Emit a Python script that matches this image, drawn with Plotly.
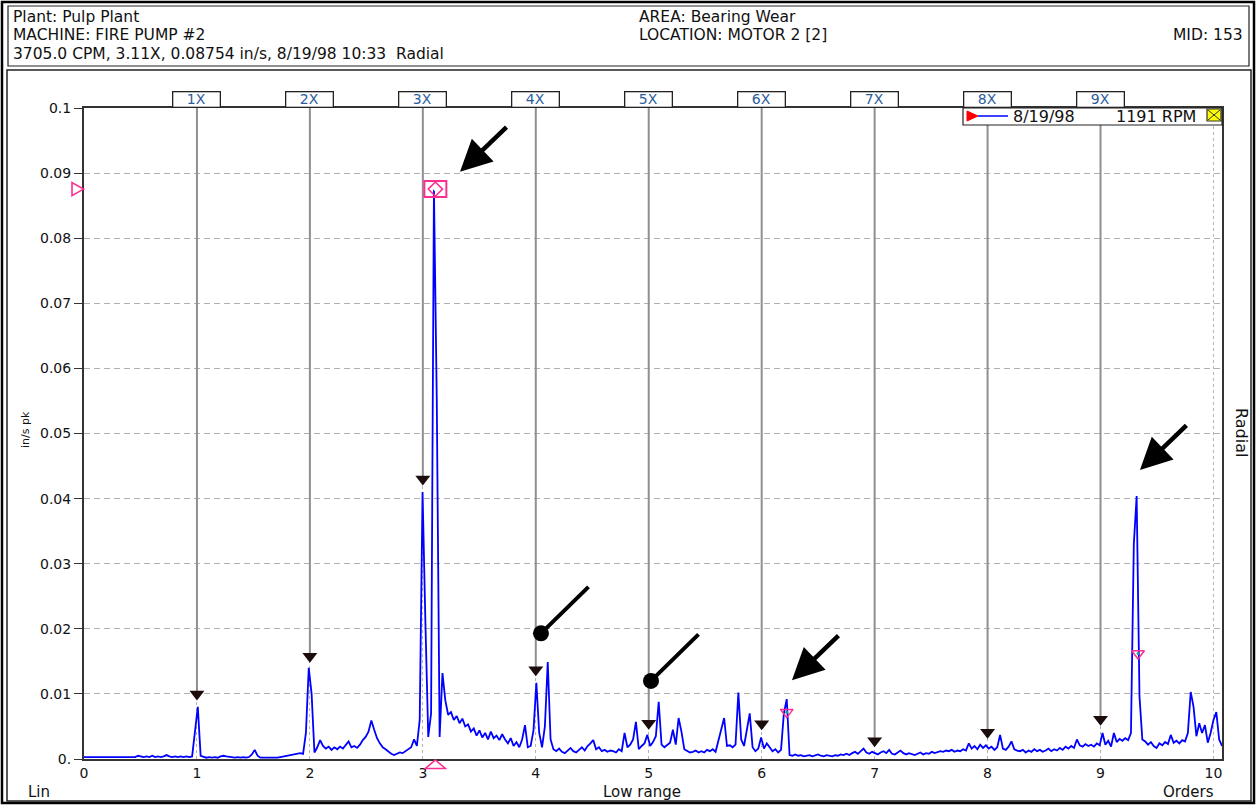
import plotly.graph_objects as go

# ---------------- data ----------------
RPM = 1191
CPM_PER_LINE = 30          # 400-line spectrum, Fmax 12000 CPM

amplitude = [
    0.0003, 0.0003, 0.0002, 0.0003, 0.0002, 0.0002, 0.0003, 0.0002, 0.0003, 0.0002,
    0.0002, 0.0003, 0.0002, 0.0002, 0.0003, 0.0002, 0.0003, 0.0002, 0.0003, 0.0005,
    0.0004, 0.0003, 0.0004, 0.0003, 0.0005, 0.0003, 0.0004, 0.0003, 0.0004, 0.0006,
    0.0004, 0.0003, 0.0004, 0.0003, 0.0004, 0.0003, 0.0004, 0.0003, 0.0004, 0.0047,
    0.0080, 0.0005, 0.0003, 0.0002, 0.0003, 0.0002, 0.0003, 0.0002, 0.0004, 0.0005,
    0.0004, 0.0003, 0.0003, 0.0002, 0.0003, 0.0002, 0.0003, 0.0002, 0.0003, 0.0007,
    0.0014, 0.0005, 0.0002, 0.0002, 0.0001, 0.0002, 0.0002, 0.0001, 0.0002, 0.0003,
    0.0004, 0.0005, 0.0005, 0.0006, 0.0007, 0.0008, 0.0009, 0.0008, 0.0040, 0.0140,
    0.0100, 0.0010, 0.0018, 0.0029, 0.0020, 0.0016, 0.0019, 0.0014, 0.0018, 0.0015,
    0.0019, 0.0016, 0.0021, 0.0027, 0.0018, 0.0020, 0.0017, 0.0022, 0.0029, 0.0034,
    0.0042, 0.0059, 0.0045, 0.0032, 0.0024, 0.0018, 0.0015, 0.0011, 0.0008, 0.0006,
    0.0008, 0.0010, 0.0009, 0.0012, 0.0014, 0.0018, 0.0030, 0.0020, 0.0060, 0.0410,
    0.0210, 0.0034, 0.0070, 0.0875, 0.0550, 0.0034, 0.0132, 0.0090, 0.0068, 0.0072,
    0.0060, 0.0066, 0.0055, 0.0062, 0.0050, 0.0053, 0.0042, 0.0047, 0.0036, 0.0044,
    0.0033, 0.0040, 0.0030, 0.0042, 0.0032, 0.0036, 0.0029, 0.0038, 0.0030, 0.0024,
    0.0032, 0.0020, 0.0026, 0.0018, 0.0030, 0.0052, 0.0018, 0.0020, 0.0044, 0.0117,
    0.0040, 0.0018, 0.0050, 0.0149, 0.0030, 0.0015, 0.0012, 0.0016, 0.0011, 0.0009,
    0.0013, 0.0017, 0.0012, 0.0010, 0.0014, 0.0018, 0.0013, 0.0020, 0.0024, 0.0029,
    0.0015, 0.0018, 0.0012, 0.0014, 0.0011, 0.0013, 0.0012, 0.0010, 0.0015, 0.0012,
    0.0040, 0.0018, 0.0022, 0.0030, 0.0057, 0.0015, 0.0020, 0.0024, 0.0037, 0.0020,
    0.0026, 0.0035, 0.0088, 0.0022, 0.0018, 0.0022, 0.0025, 0.0045, 0.0022, 0.0063,
    0.0042, 0.0015, 0.0012, 0.0010, 0.0011, 0.0013, 0.0010, 0.0012, 0.0010, 0.0014,
    0.0012, 0.0015, 0.0011, 0.0030, 0.0045, 0.0063, 0.0020, 0.0021, 0.0018, 0.0022,
    0.0102, 0.0030, 0.0020, 0.0048, 0.0070, 0.0018, 0.0012, 0.0016, 0.0033, 0.0016,
    0.0024, 0.0018, 0.0012, 0.0015, 0.0010, 0.0014, 0.0070, 0.0092, 0.0006, 0.0005,
    0.0007, 0.0005, 0.0006, 0.0004, 0.0005, 0.0006, 0.0004, 0.0005, 0.0007, 0.0005,
    0.0004, 0.0006, 0.0005, 0.0004, 0.0006, 0.0005, 0.0007, 0.0006, 0.0008, 0.0006,
    0.0009, 0.0011, 0.0008, 0.0012, 0.0016, 0.0010, 0.0008, 0.0011, 0.0009, 0.0007,
    0.0010, 0.0012, 0.0009, 0.0014, 0.0008, 0.0007, 0.0010, 0.0013, 0.0009, 0.0007,
    0.0009, 0.0008, 0.0006, 0.0008, 0.0010, 0.0007, 0.0009, 0.0008, 0.0011, 0.0009,
    0.0010, 0.0012, 0.0011, 0.0013, 0.0012, 0.0014, 0.0011, 0.0013, 0.0012, 0.0015,
    0.0013, 0.0024, 0.0016, 0.0020, 0.0015, 0.0022, 0.0017, 0.0021, 0.0016, 0.0019,
    0.0014, 0.0018, 0.0037, 0.0016, 0.0014, 0.0019, 0.0027, 0.0015, 0.0013, 0.0012,
    0.0014, 0.0010, 0.0013, 0.0011, 0.0015, 0.0012, 0.0014, 0.0011, 0.0013, 0.0016,
    0.0012, 0.0015, 0.0013, 0.0017, 0.0014, 0.0019, 0.0016, 0.0020, 0.0017, 0.0030,
    0.0021, 0.0019, 0.0023, 0.0020, 0.0022, 0.0019, 0.0024, 0.0021, 0.0040, 0.0022,
    0.0028, 0.0019, 0.0040, 0.0026, 0.0031, 0.0028, 0.0032, 0.0029, 0.0040, 0.0330,
    0.0404, 0.0096, 0.0030, 0.0027, 0.0022, 0.0026, 0.0020, 0.0017, 0.0024, 0.0021,
    0.0026, 0.0023, 0.0037, 0.0025, 0.0028, 0.0024, 0.0029, 0.0027, 0.0040, 0.0103,
    0.0080, 0.0035, 0.0055, 0.0040, 0.0052, 0.0025, 0.0040, 0.0060, 0.0072, 0.0030,
    0.0020,
]

harmonic_orders = [1, 2, 3, 4, 5, 6, 7, 8, 9]
harmonic_labels = ["1X", "2X", "3X", "4X", "5X", "6X", "7X", "8X", "9X"]
harmonic_marker_amp = [0.0100, 0.0158, 0.0430, 0.0137, 0.0055, 0.0054, 0.0028, 0.0041, 0.0061]

cursor_order = 3.1108
cursor_amp = 0.08754
cursor_harm_orders = [6.2216, 9.3324]
cursor_harm_amp = [0.0072, 0.0162]

Y_MAX = 0.1
y_tickvals = [0.0, 0.01, 0.02, 0.03, 0.04, 0.05, 0.06, 0.07, 0.08, 0.09, 0.1]
y_ticktext = ["0.", "0.01", "0.02", "0.03", "0.04", "0.05", "0.06", "0.07", "0.08", "0.09", "0.1"]
x_tickvals = [0, 1, 2, 3, 4, 5, 6, 7, 8, 9, 10]
x_ticktext = ["0", "1", "2", "3", "4", "5", "6", "7", "8", "9", "10"]

arrow_tip_x = [3.329, 9.349, 6.268]
arrow_tip_y = [0.0902, 0.0444, 0.0121]
dot_x = [4.046, 5.020]
dot_y = [0.0193, 0.0120]

header_left = ["Plant: Pulp Plant", "MACHINE: FIRE PUMP #2",
               "3705.0 CPM, 3.11X, 0.08754 in/s, 8/19/98 10:33 \u00a0Radial"]
header_mid = ["AREA: Bearing Wear", "LOCATION: MOTOR 2 [2]"]
mid_label = "MID: 153"
legend_date = "8/19/98"
legend_rpm = "1191 RPM"

# ---------------- layout geometry ----------------
W, H = 1257, 805
L, R, T, B = 84, 1222, 108, 759
FONT = "DejaVu Sans"
PINK = "#ff2d8f"


def px(x):
    return (x - L) / (R - L)


def py(y):
    return (B - y) / (B - T)


def dpx(n):   # pixel length -> paper (x)
    return n / (R - L)


def dpy(n):   # pixel length -> paper (y)
    return n / (B - T)


orders = [i * CPM_PER_LINE / RPM for i in range(len(amplitude))]
x_max = orders[-1]

fig = go.Figure()

# harmonic marker lines (from top down to the marker)
hx, hy = [], []
for o, a in zip(harmonic_orders, harmonic_marker_amp):
    hx += [o, o, None]
    hy += [Y_MAX, a, None]
fig.add_trace(go.Scatter(x=hx, y=hy, mode="lines",
                         line=dict(color="#8f8f8f", width=2),
                         hoverinfo="skip", showlegend=False))

# spectrum
fig.add_trace(go.Scatter(x=orders, y=amplitude, mode="lines",
                         line=dict(color="#0000ff", width=1.8),
                         showlegend=False))

# harmonic triangles
fig.add_trace(go.Scatter(x=harmonic_orders, y=harmonic_marker_amp, mode="markers",
                         marker=dict(symbol="triangle-down", size=13, color="#1c0c0c"),
                         showlegend=False))

# cursor harmonic markers
fig.add_trace(go.Scatter(x=cursor_harm_orders, y=cursor_harm_amp, mode="markers",
                         marker=dict(symbol="triangle-down-open", size=11,
                                     color=PINK, line=dict(width=1.5, color=PINK)),
                         showlegend=False))
fig.add_trace(go.Scatter(x=cursor_harm_orders, y=cursor_harm_amp, mode="markers",
                         marker=dict(symbol="circle", size=3, color="#22aa88"),
                         showlegend=False))

# cursor
fig.add_trace(go.Scatter(x=[cursor_order], y=[cursor_amp], mode="markers",
                         marker=dict(symbol="diamond-open", size=11, color=PINK,
                                     line=dict(width=1.5, color=PINK)),
                         showlegend=False))
fig.add_trace(go.Scatter(x=[cursor_order], y=[cursor_amp], mode="markers",
                         marker=dict(symbol="circle", size=4, color="white"),
                         showlegend=False))

shapes = []
# frames
shapes.append(dict(type="rect", xref="paper", yref="paper",
                   x0=px(2), x1=px(1254), y0=py(803), y1=py(2),
                   line=dict(color="#000", width=2.5), layer="below"))
shapes.append(dict(type="rect", xref="paper", yref="paper",
                   x0=px(8), x1=px(1249), y0=py(66), y1=py(6),
                   line=dict(color="#222", width=1.2), layer="below"))
shapes.append(dict(type="rect", xref="paper", yref="paper",
                   x0=px(7), x1=px(1251), y0=py(801), y1=py(70),
                   line=dict(color="#222", width=1.5), layer="below"))
# cursor box
shapes.append(dict(type="rect", xref="x", yref="y", xsizemode="pixel", ysizemode="pixel",
                   xanchor=cursor_order, yanchor=cursor_amp, x0=-11, x1=11, y0=-8, y1=8,
                   line=dict(color=PINK, width=2)))
# cursor pointers on the axes (outside the plot area -> paper coordinates)
cy = cursor_amp / Y_MAX
shapes.append(dict(type="path", xref="paper", yref="paper",
                   path=(f"M{-dpx(12)},{cy + dpy(6.5)} L{-dpx(12)},{cy - dpy(6.5)} "
                         f"L{-dpx(0.5)},{cy} Z"),
                   line=dict(color=PINK, width=1.6)))
cx = cursor_order / x_max
shapes.append(dict(type="path", xref="paper", yref="paper",
                   path=(f"M{cx - dpx(10)},{-dpy(9.5)} L{cx + dpx(10)},{-dpy(9.5)} "
                         f"L{cx},{-dpy(1)} Z"),
                   line=dict(color=PINK, width=1.6)))
# legend box
shapes.append(dict(type="rect", xref="paper", yref="paper",
                   x0=px(963), x1=px(1222), y0=py(125), y1=py(108),
                   fillcolor="white", line=dict(color="#222", width=1.2)))
shapes.append(dict(type="path", xref="paper", yref="paper",
                   path=f"M{px(967)},{py(111)} L{px(967)},{py(121)} L{px(978)},{py(116)} Z",
                   fillcolor="#ff0000", line=dict(color="#ff0000", width=1)))
shapes.append(dict(type="line", xref="paper", yref="paper",
                   x0=px(978), x1=px(1008), y0=py(116), y1=py(116),
                   line=dict(color="#0000ff", width=1.5)))
shapes.append(dict(type="rect", xref="paper", yref="paper",
                   x0=px(1207), x1=px(1221), y0=py(121), y1=py(109),
                   fillcolor="#ffff00", line=dict(color="#333", width=1.2)))
shapes.append(dict(type="line", xref="paper", yref="paper",
                   x0=px(1208), x1=px(1220), y0=py(120), y1=py(110),
                   line=dict(color="#333", width=1)))
shapes.append(dict(type="line", xref="paper", yref="paper",
                   x0=px(1208), x1=px(1220), y0=py(110), y1=py(120),
                   line=dict(color="#333", width=1)))

annotations = []
# header text
for i, t in enumerate(header_left):
    annotations.append(dict(xref="paper", yref="paper", x=px(11), y=py(17 + 18.5 * i),
                            xanchor="left", yanchor="middle", text=t, showarrow=False,
                            font=dict(family=FONT, size=15.5, color="#111")))
for i, t in enumerate(header_mid):
    annotations.append(dict(xref="paper", yref="paper", x=px(637), y=py(17 + 18.5 * i),
                            xanchor="left", yanchor="middle", text=t, showarrow=False,
                            font=dict(family=FONT, size=15.5, color="#111")))
annotations.append(dict(xref="paper", yref="paper", x=px(1245), y=py(35.5),
                        xanchor="right", yanchor="middle", text=mid_label, showarrow=False,
                        font=dict(family=FONT, size=15.5, color="#111")))

# harmonic label boxes
for o, lab in zip(harmonic_orders, harmonic_labels):
    annotations.append(dict(xref="x", yref="paper", x=o, y=1.0, xanchor="center",
                            yanchor="bottom", text=lab, showarrow=False,
                            width=46, height=14, borderpad=0, bgcolor="white",
                            bordercolor="#222", borderwidth=1.3,
                            font=dict(family=FONT, size=14, color="#2b5d9c")))

# legend text
annotations.append(dict(xref="paper", yref="paper", x=px(1011), y=py(116.5),
                        xanchor="left", yanchor="middle", text=legend_date, showarrow=False,
                        font=dict(family=FONT, size=16, color="#111")))
annotations.append(dict(xref="paper", yref="paper", x=px(1198), y=py(116.5),
                        xanchor="right", yanchor="middle", text=legend_rpm, showarrow=False,
                        font=dict(family=FONT, size=16, color="#111")))

# axis texts
annotations.append(dict(xref="paper", yref="paper", x=px(25), y=py(430),
                        xanchor="center", yanchor="middle", text="in/s pk", textangle=-90,
                        showarrow=False, font=dict(family=FONT, size=11, color="#111")))
annotations.append(dict(xref="paper", yref="paper", x=px(1241), y=py(432),
                        xanchor="center", yanchor="middle", text="Radial", textangle=90,
                        showarrow=False, font=dict(family=FONT, size=16, color="#111")))
annotations.append(dict(xref="paper", yref="paper", x=px(26), y=py(792),
                        xanchor="left", yanchor="middle", text="Lin",
                        showarrow=False, font=dict(family=FONT, size=15, color="#111")))
annotations.append(dict(xref="paper", yref="paper", x=px(642), y=py(792),
                        xanchor="center", yanchor="middle", text="Low range",
                        showarrow=False, font=dict(family=FONT, size=15, color="#111")))
annotations.append(dict(xref="paper", yref="paper", x=px(1216), y=py(792),
                        xanchor="right", yanchor="middle", text="Orders",
                        showarrow=False, font=dict(family=FONT, size=15, color="#111")))

# arrows and pointer dots
for ax_, ay_ in zip(arrow_tip_x, arrow_tip_y):
    annotations.append(dict(x=ax_, y=ay_, xref="x", yref="y", text="", showarrow=True,
                            ax=48, ay=-46, arrowhead=2, arrowsize=1.4, arrowwidth=4.5,
                            arrowcolor="#000", standoff=0))
for dx, dy in zip(dot_x, dot_y):
    annotations.append(dict(x=dx, y=dy, xref="x", yref="y", text="", showarrow=True,
                            ax=49, ay=-48, arrowhead=6, arrowsize=1.0, arrowwidth=4,
                            arrowcolor="#000", standoff=0))

fig.update_layout(
    width=W, height=H,
    margin=dict(l=L, r=W - R, t=T, b=H - B, autoexpand=False),
    paper_bgcolor="white", plot_bgcolor="white",
    shapes=shapes, annotations=annotations,
    showlegend=False,
    xaxis=dict(range=[0, x_max], tickvals=x_tickvals, ticktext=x_ticktext,
               showgrid=True, gridcolor="#b4b4b4", griddash="dot", gridwidth=1,
               zeroline=False, showline=True, mirror=True, linecolor="#333", linewidth=2,
               ticks="", tickfont=dict(family=FONT, size=14, color="#111")),
    yaxis=dict(range=[0, Y_MAX], tickvals=y_tickvals, ticktext=y_ticktext,
               showgrid=True, gridcolor="#b0b0b0", griddash="6px,4px", gridwidth=1,
               zeroline=False, showline=True, mirror=True, linecolor="#333", linewidth=2,
               ticks="outside", ticklen=8, tickcolor="#333",
               tickfont=dict(family=FONT, size=14, color="#111")),
    font=dict(family=FONT),
)

fig.write_html(
    "out.html",
    config={"displayModeBar": False},
    post_script="document.body.style.margin='0px';document.body.style.overflow='hidden';",
)
